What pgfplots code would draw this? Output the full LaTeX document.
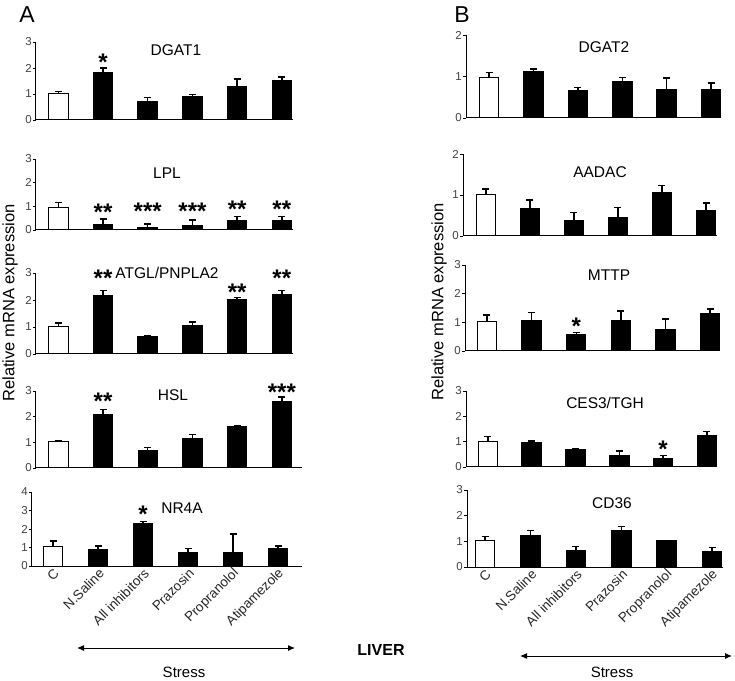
\documentclass[border=0pt]{standalone}
\usepackage{fontspec}
\setmainfont{Liberation Sans}
\usepackage{pgfplots}
\pgfplotsset{compat=1.18}
\usetikzlibrary{arrows.meta}
\pgfplotsset{
  panel/.style={
    scale only axis, axis lines*=left, ymin=0,
    xmin=-0.5, xmax=5.25,
    xtick=\empty,
    ytick distance=1,
    tick align=outside,
    major tick length=3pt,
    ytick style={line width=0.8pt, black},
    axis line style={line width=1pt, black},
    yticklabel style={font=\fontsize{11.5}{12}\selectfont, text=black!75, inner sep=1pt},
    /pgf/number format/assume math mode=true,
    anchor=south west,
    clip=false,
    ybar, bar width=19.5pt, bar shift=0pt,
    error bars/y dir=plus, error bars/y explicit,
    error bars/error bar style={line width=1.4pt, black},
    error bars/error mark options={rotate=90, mark size=3.5pt, line width=1.4pt, black},
  },
  cbar/.style={fill=white, draw=black, line width=1pt},
  sbar/.style={fill=black, draw=black, line width=1pt},
  bottomlabels/.style={
    xtick={0,...,5},
    xticklabels={C, N.Saline, All inhibitors, Prazosin, Propranolol, Atipamezole},
    xtick style={draw=none},
    xticklabel style={rotate=45, anchor=east, font=\fontsize{13.5}{14}\selectfont, text=black!85, inner sep=1pt, yshift=-4pt, xshift=2pt},
  },
}
\tikzset{
  star/.style={font=\fontsize{24}{24}\selectfont\bfseries, anchor=base, yshift=-13.8pt, inner sep=0pt},
  ttl/.style={font=\fontsize{15.5}{16}\selectfont, inner sep=0pt},
}
\begin{document}
\begin{tikzpicture}[x=1pt,y=1pt]
\useasboundingbox (0,0) rectangle (735,680);

% ---------- A1 DGAT1
\begin{axis}[panel, at={(36pt,560pt)}, width=257pt, height=78pt, ymax=3]
\addplot[cbar] coordinates {(0,1.03) +- (0,0.06)};
\addplot[sbar] coordinates {(1,1.84) +- (0,0.16) (2,0.71) +- (0,0.16) (3,0.91) +- (0,0.06) (4,1.28) +- (0,0.29) (5,1.50) +- (0,0.15)};
\node[star] at (axis cs:1,2.43) {*};
\end{axis}

% ---------- A2 LPL
\begin{axis}[panel, at={(36pt,450pt)}, width=257pt, height=71pt, ymax=3]
\addplot[cbar] coordinates {(0,0.96) +- (0,0.21)};
\addplot[sbar] coordinates {(1,0.24) +- (0,0.23) (2,0.11) +- (0,0.14) (3,0.18) +- (0,0.24) (4,0.40) +- (0,0.17) (5,0.40) +- (0,0.17)};
\node[star] at (axis cs:1,0.99) {**};
\node[star] at (axis cs:2,1.02) {***};
\node[star] at (axis cs:3,1.02) {***};
\node[star] at (axis cs:4,1.13) {**};
\node[star] at (axis cs:5,1.13) {**};
\end{axis}

% ---------- A3 ATGL/PNPLA2
\begin{axis}[panel, at={(36pt,326pt)}, width=257pt, height=81pt, ymax=3]
\addplot[cbar] coordinates {(0,1.02) +- (0,0.13)};
\addplot[sbar] coordinates {(1,2.18) +- (0,0.18) (2,0.63) +- (0,0.06) (3,1.06) +- (0,0.13) (4,2.00) +- (0,0.10) (5,2.20) +- (0,0.16)};
\node[star] at (axis cs:1,3.0) {**};
\node[star] at (axis cs:4,2.5) {**};
\node[star] at (axis cs:5,3.0) {**};
\end{axis}

% ---------- A4 HSL
\begin{axis}[panel, at={(36pt,212pt)}, width=266pt, height=77pt, ymax=3, xmax=5.45]
\addplot[cbar] coordinates {(0,1.05) +- (0,0.03)};
\addplot[sbar] coordinates {(1,2.08) +- (0,0.21) (2,0.67) +- (0,0.14) (3,1.16) +- (0,0.15) (4,1.63) +- (0,0.02) (5,2.61) +- (0,0.16)};
\node[star] at (axis cs:1,2.83) {**};
\node[star] at (axis cs:5,3.15) {***};
\end{axis}

% ---------- A5 NR4A
\begin{axis}[panel, bottomlabels, at={(32pt,114pt)}, width=270pt, height=74pt, ymax=4, xmin=-0.47, xmax=5.53]
\addplot[cbar] coordinates {(0,1.08) +- (0,0.28)};
\addplot[sbar] coordinates {(1,0.91) +- (0,0.18) (2,2.30) +- (0,0.09) (3,0.74) +- (0,0.19) (4,0.72) +- (0,1.00) (5,0.95) +- (0,0.14)};
\node[star] at (axis cs:2,3.1) {*};
\end{axis}

% ---------- B1 DGAT2
\begin{axis}[panel, at={(466pt,562pt)}, width=254pt, height=83pt, ymax=2, xmin=-0.52, xmax=5.2]
\addplot[cbar] coordinates {(0,0.98) +- (0,0.12)};
\addplot[sbar] coordinates {(1,1.12) +- (0,0.06) (2,0.66) +- (0,0.08) (3,0.88) +- (0,0.10) (4,0.68) +- (0,0.28) (5,0.68) +- (0,0.16)};
\end{axis}

% ---------- B2 AADAC
\begin{axis}[panel, at={(463pt,444pt)}, width=254pt, height=82pt, ymax=2, xmin=-0.52, xmax=5.25]
\addplot[cbar] coordinates {(0,1.00) +- (0,0.15)};
\addplot[sbar] coordinates {(1,0.67) +- (0,0.21) (2,0.37) +- (0,0.20) (3,0.45) +- (0,0.25) (4,1.07) +- (0,0.16) (5,0.63) +- (0,0.17)};
\end{axis}

% ---------- B3 MTTP
\begin{axis}[panel, at={(465pt,329pt)}, width=255pt, height=86pt, ymax=3, xmin=-0.49, xmax=5.22]
\addplot[cbar] coordinates {(0,1.02) +- (0,0.23)};
\addplot[sbar] coordinates {(1,1.05) +- (0,0.29) (2,0.57) +- (0,0.07) (3,1.05) +- (0,0.35) (4,0.75) +- (0,0.36) (5,1.31) +- (0,0.15)};
\node[star] at (axis cs:2,1.07) {*};
\end{axis}

% ---------- B4 CES3/TGH
\begin{axis}[panel, at={(466pt,213pt)}, width=251pt, height=76pt, ymax=3, xmin=-0.5, xmax=5.23]
\addplot[cbar] coordinates {(0,1.01) +- (0,0.20)};
\addplot[sbar] coordinates {(1,0.95) +- (0,0.08) (2,0.68) +- (0,0.06) (3,0.45) +- (0,0.18) (4,0.33) +- (0,0.13) (5,1.25) +- (0,0.16)};
\node[star] at (axis cs:4,0.92) {*};
\end{axis}

% ---------- B5 CD36
\begin{axis}[panel, bottomlabels, at={(467pt,113pt)}, width=256pt, height=77pt, ymax=3, xmin=-0.4, xmax=5.24]
\addplot[cbar] coordinates {(0,1.03) +- (0,0.16)};
\addplot[sbar] coordinates {(1,1.23) +- (0,0.19) (2,0.65) +- (0,0.15) (3,1.41) +- (0,0.16) (5,0.61) +- (0,0.15)};
\addplot[sbar, error bars/.cd, y dir=none] coordinates {(4,1.02)};
\end{axis}

% titles
\node[ttl] at (176,630) {DGAT1};
\node[ttl] at (167,507) {LPL};
\node[ttl] at (167,407) {ATGL/PNPLA2};
\node[ttl] at (173,285) {HSL};
\node[ttl] at (182,172) {NR4A};
\node[ttl] at (604,633) {DGAT2};
\node[ttl] at (600,508) {AADAC};
\node[ttl] at (609,405) {MTTP};
\node[ttl] at (605,277) {CES3/TGH};
\node[ttl] at (612,177) {CD36};

% panel letters
\node[font=\fontsize{23}{24}\selectfont, inner sep=0pt] at (27,665) {A};
\node[font=\fontsize{23}{24}\selectfont, inner sep=0pt] at (462,665) {B};

% y labels
\node[rotate=90, font=\fontsize{16.5}{17}\selectfont, inner sep=0pt] at (10,377) {Relative mRNA expression};
\node[rotate=90, font=\fontsize{16.5}{17}\selectfont, inner sep=0pt] at (439,378) {Relative mRNA expression};

% arrows and stress
\draw[line width=1pt, {Latex[length=7pt,width=6pt]}-{Latex[length=7pt,width=6pt]}] (77,32) -- (295,32);
\draw[line width=1pt, {Latex[length=7pt,width=6pt]}-{Latex[length=7pt,width=6pt]}] (520,24) -- (732,24);
\node[font=\fontsize{15}{16}\selectfont, inner sep=0pt] at (184,8) {Stress};
\node[font=\fontsize{15}{16}\selectfont, inner sep=0pt] at (612,8) {Stress};
\node[font=\fontsize{16}{17}\selectfont\bfseries, inner sep=0pt] at (381,30) {LIVER};
\end{tikzpicture}
\end{document}
